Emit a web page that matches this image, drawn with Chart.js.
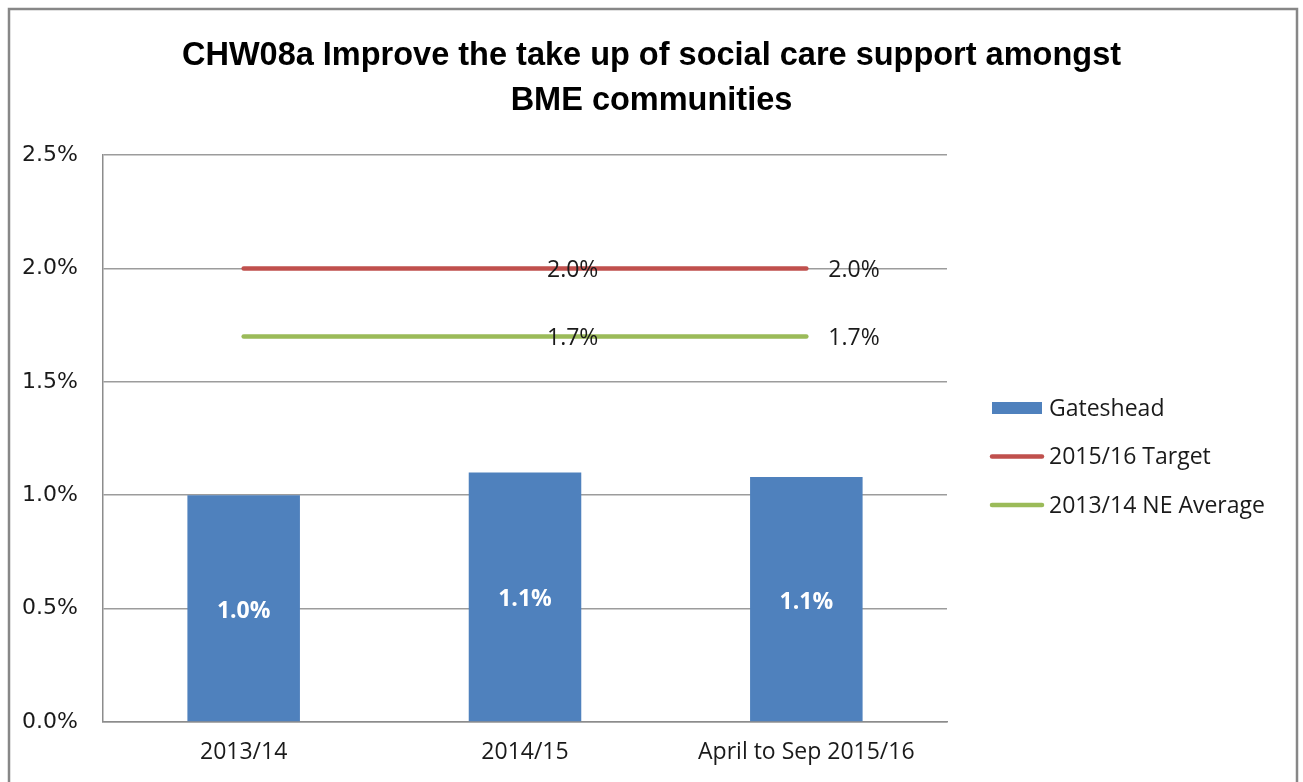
<!DOCTYPE html>
<html>
<head>
<meta charset="utf-8">
<script src="https://cdn.jsdelivr.net/npm/chart.js@4/dist/chart.umd.min.js"></script>
<style>
  html, body { margin: 0; padding: 0; background: #fff; }
  #wrap { width: 1303px; height: 782px; position: relative; }
</style>
</head>
<body>
<div id="wrap"><canvas id="chw08a"></canvas></div>
<script>
// ====== Data ======
const categories = ['2013/14', '2014/15', 'April to Sep 2015/16'];
const gatesheadValues = [1.0, 1.10, 1.08];
const targetValues = [2.0, 2.0, 2.0];
const neAverageValues = [1.7, 1.7, 1.7];
const seriesNames = ['Gateshead', '2015/16 Target', '2013/14 NE Average'];
const titleLines = ['CHW08a Improve the take up of social care support amongst', 'BME communities'];
const yTickValues = [0, 0.5, 1.0, 1.5, 2.0, 2.5];
// which points of the line series carry a value label
const lineLabelIndexes = [1, 2];

const BLUE = '#4F81BD', RED = '#C0504D', GREEN = '#9BBB59';
const TEXT = '#1a1a1a';
const LABEL_FONT = '"Open Sans", sans-serif';

// frame round the whole chart + title centred on the whole canvas
const framePlugin = {
    id: 'frame',
    beforeDraw(chart) {
        const ctx = chart.ctx;
        ctx.save();
        ctx.fillStyle = '#fff';
        ctx.fillRect(0, 0, chart.width, chart.height);
        ctx.strokeStyle = '#878787';
        ctx.lineWidth = 2.5;
        ctx.strokeRect(9, 9, 1288, 800);
        ctx.fillStyle = '#000';
        ctx.font = 'bold 32.5px "Liberation Sans", Arial, sans-serif';
        ctx.textAlign = 'center';
        ctx.textBaseline = 'middle';
        titleLines.forEach((line, i) => ctx.fillText(line, chart.width / 2, 56 + i * 45));
        ctx.restore();
    }
};

// value labels: bars centred in white, lines to the right of the point
const valueLabels = {
    id: 'valueLabels',
    afterDatasetsDraw(chart) {
        const ctx = chart.ctx;
        ctx.save();
        chart.data.datasets.forEach((ds, i) => {
            const meta = chart.getDatasetMeta(i);
            meta.data.forEach((el, j) => {
                const txt = Number(ds.data[j]).toFixed(1) + '%';
                if (ds.type === 'bar') {
                    ctx.font = 'bold 23px ' + LABEL_FONT;
                    ctx.fillStyle = '#fff';
                    ctx.textAlign = 'center';
                    ctx.textBaseline = 'middle';
                    ctx.fillText(txt, el.x, (el.y + el.base) / 2 + 3);
                } else if (lineLabelIndexes.includes(j)) {
                    ctx.font = '23px ' + LABEL_FONT;
                    ctx.fillStyle = TEXT;
                    ctx.textAlign = 'left';
                    ctx.textBaseline = 'middle';
                    ctx.fillText(txt, el.x + 22, el.y + 2);
                }
            });
        });
        ctx.restore();
    }
};

// legend on the right, drawn by hand so the line entries look like lines
const sideLegend = {
    id: 'sideLegend',
    afterDraw(chart) {
        const ctx = chart.ctx;
        const x0 = 990, y0 = 408, gap = 48.5;
        ctx.save();
        ctx.font = '23px ' + LABEL_FONT;
        ctx.textAlign = 'left';
        ctx.textBaseline = 'middle';
        chart.data.datasets.forEach((ds, i) => {
            const y = y0 + i * gap;
            if (ds.type === 'bar') {
                ctx.fillStyle = ds.backgroundColor;
                ctx.fillRect(x0 + 2, y - 6, 50, 12);
            } else {
                ctx.strokeStyle = ds.borderColor;
                ctx.lineWidth = 4.5;
                ctx.lineCap = 'round';
                ctx.beginPath();
                ctx.moveTo(x0 + 2, y);
                ctx.lineTo(x0 + 52, y);
                ctx.stroke();
            }
            ctx.fillStyle = TEXT;
            ctx.fillText(ds.label, x0 + 59, y + 1);
        });
        ctx.restore();
    }
};

const ctx = document.getElementById('chw08a').getContext('2d');
new Chart(ctx, {
    data: {
        labels: categories,
        datasets: [
            { type: 'bar', label: seriesNames[0], data: gatesheadValues, backgroundColor: BLUE,
              barPercentage: 0.4, categoryPercentage: 1.0, order: 3 },
            { type: 'line', label: seriesNames[1], data: targetValues, borderColor: RED, backgroundColor: RED,
              borderWidth: 4.5, borderCapStyle: 'round', pointRadius: 0, order: 1 },
            { type: 'line', label: seriesNames[2], data: neAverageValues, borderColor: GREEN, backgroundColor: GREEN,
              borderWidth: 4.5, borderCapStyle: 'round', pointRadius: 0, order: 2 }
        ]
    },
    options: {
        responsive: true,
        maintainAspectRatio: false,
        animation: false,
        events: [],
        layout: { padding: { left: 8, right: 356, top: 155, bottom: 0 } },
        plugins: {
            legend: { display: false },
            tooltip: { enabled: false },
            title: { display: false }
        },
        scales: {
            x: {
                offset: true,
                grid: { display: false, drawTicks: false },
                border: { display: true, color: '#8c8c8c', width: 1.5 },
                ticks: { color: TEXT, font: { family: LABEL_FONT, size: 23 }, padding: 17, maxRotation: 0 },
                afterFit(scale) { scale.height = 60; }
            },
            y: {
                min: 0, max: 2.5,
                afterBuildTicks(scale) { scale.ticks = yTickValues.map(v => ({ value: v })); },
                grid: { color: '#9c9c9c', lineWidth: 1.5, drawTicks: false },
                border: { display: true, color: '#8c8c8c', width: 1.5 },
                ticks: {
                    color: TEXT, padding: 25,
                    font: { family: '"DejaVu Sans", sans-serif', size: 22 },
                    callback: v => Number(v).toFixed(1) + '%'
                },
                afterFit(scale) { scale.width = 95; }
            }
        }
    },
    plugins: [framePlugin, valueLabels, sideLegend]
});
</script>
</body>
</html>
